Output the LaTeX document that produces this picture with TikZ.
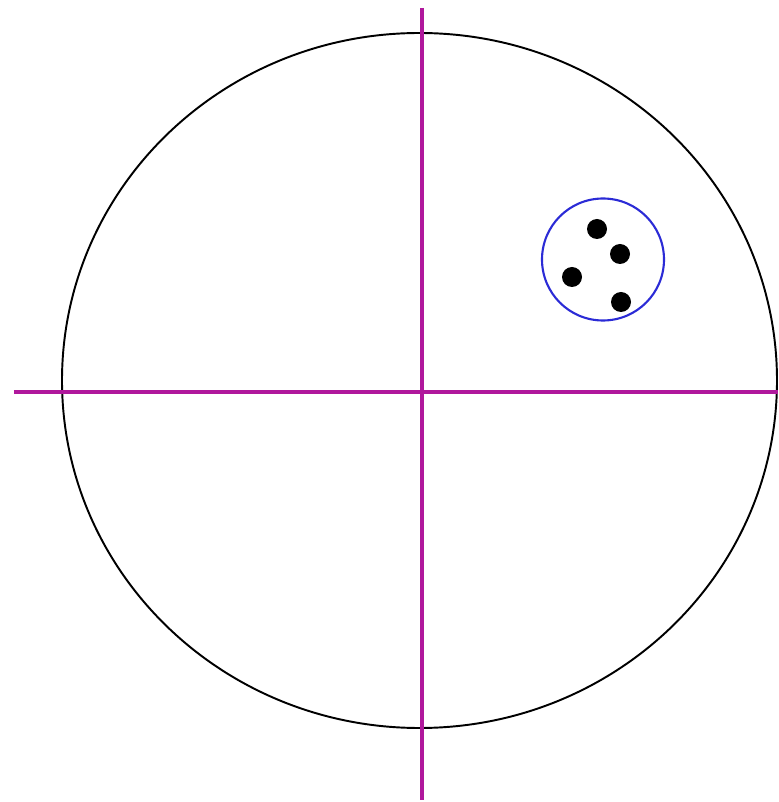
\documentclass[tikz,border=0pt]{standalone}
\usepackage{tikz}
\definecolor{Axis}{HTML}{B0189C}
\definecolor{Ring}{HTML}{2B2BD6}

\begin{document}
\begin{tikzpicture}[
    axis/.style={draw=Axis, line width=1.2pt},
    rim/.style={draw=black, line width=0.55pt},
    ring/.style={draw=Ring, line width=0.6pt},
    dot/.style={fill=black}
]
\useasboundingbox (0,0) rectangle (7.78,8.02);

% Outer disc
\draw[rim] (4.195,4.215) ellipse [x radius=3.575, y radius=3.475];

% Axes
\draw[axis] (0.14,4.10) -- (7.78,4.10);
\draw[axis] (4.22,7.94) -- (4.22,0.02);

% Cluster
\draw[ring] (6.03,5.425) circle [radius=0.61];
\foreach \x/\y in {5.97/5.73, 6.20/5.48, 5.72/5.25, 6.21/5.00}
    \fill[dot] (\x,\y) circle [radius=0.10];

\end{tikzpicture}
\end{document}
